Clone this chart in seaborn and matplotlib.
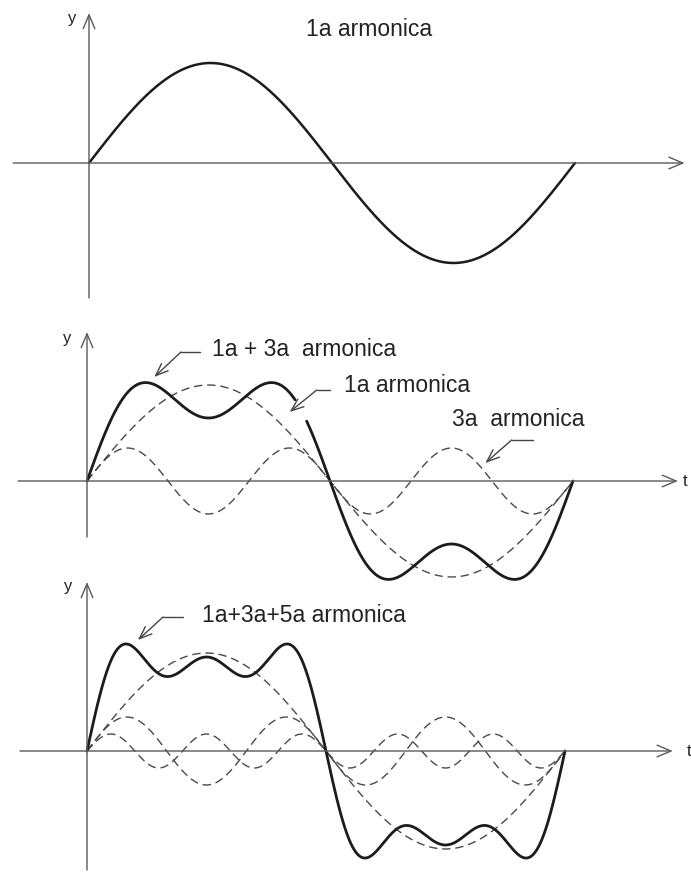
import numpy as np
import pandas as pd
import matplotlib
matplotlib.use("Agg")
import matplotlib.pyplot as plt
import seaborn as sns

sns.set_theme(style="white")
plt.rcParams["font.family"] = ["Liberation Sans", "DejaVu Sans"]

# ---------------- data ----------------
# amplitudes in relative units (1 unit ~ 100 px in the drawing)
top_orders = [1]
top_amps = [1.00]

mid_fund_orders, mid_fund_amps = [1], [0.96]
mid_third_orders, mid_third_amps = [3], [0.33]
mid_sum_orders, mid_sum_amps = [1, 3], [1.01, 0.38]
mid_sum_gap = [2.69, 2.84]          # small break in the drawn thick line

bot_fund_orders, bot_fund_amps = [1], [0.98]
bot_third_orders, bot_third_amps = [3], [0.34]
bot_fifth_orders, bot_fifth_amps = [5], [0.17]
bot_sum_orders, bot_sum_amps = [1, 3, 5], [1.10, 0.40, 0.24]

title_top = "1a armonica"
mid_labels = ["1a + 3a  armonica", "1a armonica", "3a  armonica"]
bot_labels = ["1a+3a+5a armonica"]

# ---------------- layout ----------------
W, H, DPI = 691, 873, 100
fig = plt.figure(figsize=(W / DPI, H / DPI), dpi=DPI)
fig.patch.set_facecolor("white")

YS = 100.0  # px per amplitude unit


def make_ax(r0, r1, axis_px, x0_px, end_px):
    xs = (end_px - x0_px) / (2 * np.pi)
    ax = fig.add_axes([0, 1 - r1 / H, 1, (r1 - r0) / H])
    ax.set_xlim(-x0_px / xs, (W - x0_px) / xs)
    ax.set_ylim(-(r1 - axis_px) / YS, (axis_px - r0) / YS)
    ax.axis("off")
    ax.patch.set_alpha(0)
    return ax


def curve(orders, amps, t0=0.0, t1=2 * np.pi, n=600):
    t = np.linspace(t0, t1, n)
    y = np.zeros_like(t)
    for k, a in zip(orders, amps):
        y += a * np.sin(k * t)
    return pd.DataFrame({"t": t, "y": y})


AXC = "#5a5a5a"
TXT = "#222222"
THICK = "#1c1c1c"
DASH = "#4a4a4a"
FS = 16.5


def axis_arrow(ax, start, tip):
    ax.annotate("", xy=tip, xytext=start,
                arrowprops=dict(arrowstyle="->,head_length=1.0,head_width=0.42",
                                lw=1.0, color=AXC, shrinkA=0, shrinkB=0,
                                mutation_scale=10),
                annotation_clip=False)


def leader(ax, p_text, p_elbow, tip):
    ax.plot([p_text[0], p_elbow[0]], [p_text[1], p_elbow[1]], color="#444444",
            lw=1.0, clip_on=False)
    ax.annotate("", xy=tip, xytext=p_elbow,
                arrowprops=dict(arrowstyle="->,head_length=0.9,head_width=0.35",
                                lw=1.0, color="#444444", shrinkA=0, shrinkB=0,
                                mutation_scale=10),
                annotation_clip=False)


def thick(ax, df, lw=2.0):
    sns.lineplot(data=df, x="t", y="y", ax=ax, color=THICK, lw=lw,
                 sort=False, estimator=None, legend=False)


def dashed(ax, df):
    sns.lineplot(data=df, x="t", y="y", ax=ax, color=DASH, lw=1.0,
                 dashes=False, linestyle=(0, (6, 3.5)), sort=False,
                 estimator=None, legend=False)


# ---------------- top panel ----------------
ax1 = make_ax(0, 320, 163, 89, 575)
axis_arrow(ax1, (-0.98, 0), (7.70, 0))
axis_arrow(ax1, (0, -1.35), (0, 1.50))
ax1.text(-0.22, 1.44, "y", fontsize=12, color=TXT, ha="center", va="center")
thick(ax1, curve(top_orders, top_amps), lw=1.8)
ax1.text(2.81, 1.33, title_top, fontsize=FS, color=TXT, ha="left", va="center")

# ---------------- middle panel ----------------
ax2 = make_ax(320, 600, 481, 87, 573)
axis_arrow(ax2, (-0.89, 0), (7.64, 0))
axis_arrow(ax2, (0, -0.56), (0, 1.49))
ax2.text(-0.25, 1.43, "y", fontsize=12, color=TXT, ha="center", va="center")
ax2.text(7.70, 0.0, "t", fontsize=12, color=TXT, ha="left", va="center")
dashed(ax2, curve(mid_fund_orders, mid_fund_amps))
dashed(ax2, curve(mid_third_orders, mid_third_amps))
thick(ax2, curve(mid_sum_orders, mid_sum_amps, 0, mid_sum_gap[0]))
thick(ax2, curve(mid_sum_orders, mid_sum_amps, mid_sum_gap[1], 2 * np.pi))
ax2.text(1.62, 1.32, mid_labels[0], fontsize=FS, color=TXT, ha="left", va="center")
leader(ax2, (1.46, 1.29), (1.215, 1.29), (0.87, 1.04))
ax2.text(3.32, 0.96, mid_labels[1], fontsize=FS, color=TXT, ha="left", va="center")
leader(ax2, (3.14, 0.91), (2.97, 0.91), (2.62, 0.69))
ax2.text(4.72, 0.61, mid_labels[2], fontsize=FS, color=TXT, ha="left", va="center")
leader(ax2, (5.77, 0.41), (5.49, 0.41), (5.15, 0.18))

# ---------------- bottom panel ----------------
ax3 = make_ax(575, 873, 751, 87, 565)
axis_arrow(ax3, (-0.88, 0), (7.70, 0))
axis_arrow(ax3, (0, -1.19), (0, 1.69))
ax3.text(-0.25, 1.64, "y", fontsize=12, color=TXT, ha="center", va="center")
ax3.text(7.89, 0.0, "t", fontsize=12, color=TXT, ha="left", va="center")
dashed(ax3, curve(bot_fund_orders, bot_fund_amps))
dashed(ax3, curve(bot_third_orders, bot_third_amps))
dashed(ax3, curve(bot_fifth_orders, bot_fifth_amps))
thick(ax3, curve(bot_sum_orders, bot_sum_amps))
ax3.text(1.51, 1.36, bot_labels[0], fontsize=FS, color=TXT, ha="left", va="center")
leader(ax3, (1.26, 1.34), (1.00, 1.34), (0.67, 1.11))

fig.savefig("out.png", dpi=DPI, facecolor="white")
